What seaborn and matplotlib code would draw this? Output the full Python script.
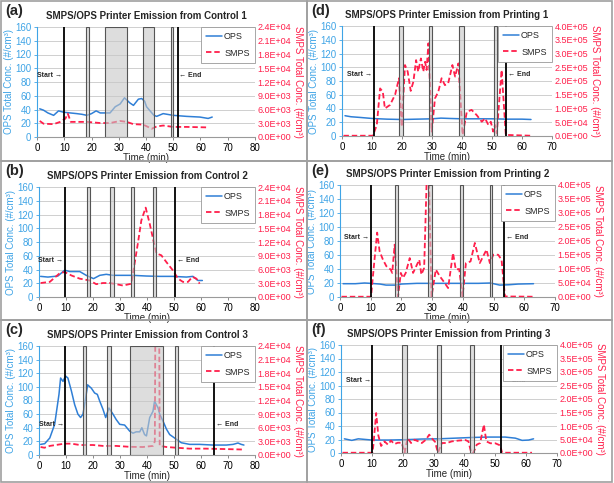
import matplotlib
matplotlib.use('Agg')
import matplotlib.pyplot as plt
from matplotlib.patches import Rectangle
from matplotlib.lines import Line2D
import seaborn as sns

sns.set_style('white')
plt.rcParams['font.family'] = ['Liberation Sans', 'DejaVu Sans']

OPS_BLUE = '#2F7FD6'
OPS_TXT = '#3FA4E6'
SMPS_RED = '#FF1F4B'

# ---- (a) Control 1 ----
a_ops_t = [1, 2.4, 4, 6.1, 7.9, 9.8, 12.2, 14.6, 16.5, 18.3, 20, 21.7, 23.2, 26.8, 28.7, 30.5,
           32.1, 34.1, 35.4, 37.2, 38.4, 39.5, 40.2, 42.9, 43.9, 46.3, 50, 54.9, 59.8, 62.8, 64.3]
a_ops = [41, 39, 35, 31.5, 38, 36, 35, 34, 33, 31.5, 34, 38, 35, 35, 44, 48,
         57, 49.5, 46, 55, 56, 52, 44, 31.5, 30, 34, 31.5, 30, 29, 27, 29]
a_smps_t = [1, 2.4, 6.1, 8.5, 10.4, 11.3, 12.4, 18.3, 23.2, 26.8, 30.5, 32.9, 35.4, 39,
            42.1, 43.9, 46.3, 50, 54.9, 62.2]
a_smps = [3500, 2900, 2800, 3300, 4000, 5100, 3300, 3300, 3050, 3050, 3500, 3300, 2800, 2700,
          1800, 2300, 2500, 2200, 2200, 2100]
a_start, a_end = 9.75, 51.6
a_bars = [(17.8, 18.9), (25.1, 32.9), (39, 42.9), (49, 49.8)]

# ---- (b) Control 2 ----
b_ops_t = [0.6, 3.3, 7, 9.5, 11.4, 15.1, 17.5, 20.2, 22.5, 24.9, 27.4, 34.8, 39.8, 44.7,
           49.6, 54.6, 57, 58.9, 60.5]
b_ops = [30, 29, 30.5, 39, 37, 37, 31.5, 26.7, 31.5, 33, 31.5, 31.5, 30.5, 30,
         30, 29, 30, 24, 24]
b_smps_t = [0.6, 4, 7.7, 9.5, 12, 15.1, 18.8, 21.2, 23.7, 26.2, 28.6, 31.1, 34.2, 35.4, 36.7,
            37.9, 39.5, 41, 42.5, 43.5, 45.3, 47.2, 49.6, 51.5, 53.3, 55.2, 56.8, 58.3, 59.5]
b_smps = [3050, 3300, 5200, 5450, 4700, 4000, 3600, 2800, 3050, 3050, 2800, 2500, 2900, 7300, 12000,
          16700, 19500, 16000, 12000, 9500, 9100, 7600, 5800, 4000, 3300, 3300, 4400, 4000, 2900]
b_start, b_end = 9.5, 50.5
b_bars = [(17.8, 19), (26.4, 27.7), (34.2, 35.2), (42.2, 43.5)]

# ---- (c) Control 3 ----
c_ops_t = [0.6, 2.1, 4, 5.8, 7.4, 8, 8.9, 9.8, 10.7, 12, 13.2, 14.4, 15.4, 16.3, 17.3, 18,
           19.4, 20.6, 21.6, 22.5, 23.7, 24.7, 25.9, 27.4, 28.6, 29.9, 31.7, 33.6, 34.8, 36,
           37.3, 38.1, 39.1, 39.8, 41, 42.2, 42.8, 44.1, 44.7, 45.9, 47.2, 48.4, 50.2, 52.7,
           55.8, 59.5, 64.4, 69.4, 71.9, 73.7, 74.9, 75.9]
c_ops = [15.6, 16.6, 25, 45, 89, 113, 108, 116, 113, 94, 74, 60, 55, 60, 84, 103,
         98, 91, 89, 79, 67, 55, 69, 60, 52, 45, 44, 35, 32, 34,
         34, 40, 30, 28, 55, 64, 79, 69, 60, 50, 38, 30, 25, 18,
         15.6, 15.6, 14.6, 14.6, 15.6, 17.6, 15.6, 14.6]
c_smps_t = [0.6, 2, 4, 9.5, 12, 15.1, 20, 23.7, 28.6, 33.6, 38.5, 42.2, 42.9, 43.1, 44.5,
            44.7, 47.2, 50.9, 55.8, 61.9, 69.4, 75.9]
c_smps = [1760, 1600, 2000, 2500, 2500, 2200, 2200, 2000, 2000, 1800, 1760, 2000, 3000, 30000, 30000,
          2000, 1760, 1600, 1400, 1400, 1300, 1200]
c_start, c_end = 9.75, 64.8
c_bars = [(16.3, 17.3), (25.3, 26.5), (33.6, 45.9), (50.4, 51.6)]

# ---- (d) Printing 1 ----
d_ops_t = [1, 3, 6, 10, 15, 20, 25, 30, 33, 36, 40, 45, 50, 55, 60, 63]
d_ops = [29.5, 28, 27, 25.5, 24.5, 24, 24.5, 25, 26, 25.5, 25, 25, 25, 24.5, 24.5, 24]
d_smps_t = [0.5, 10.3, 11.6, 12.7, 13.6, 14.3, 16, 17.7, 19, 19.9, 21, 21.9, 22.9, 23.8, 24.7,
            25.4, 26.3, 27.1, 27.7, 28.2, 28.8, 29.9, 31, 32.1, 33.2, 34.3, 35.4, 36.8, 37.7,
            38.8, 40.2, 41.6, 43.2, 44.9, 46.6, 47.7, 48.8, 49.6, 50.4, 51, 51.6, 53.2, 54.6, 63]
d_smps = [1000, 1000, 40000, 173000, 161000, 100000, 113000, 150000, 210000, 34000, 258000, 234000,
          164000, 198000, 276000, 234000, 282000, 234000, 270000, 240000, 337000, 16000, 137000,
          161000, 210000, 185000, 192000, 258000, 216000, 264000, 4000, 88000, 95000, 76000, 52000,
          64000, 40000, 52000, 16000, 40000, 10000, 240000, 4000, 1000]
d_start, d_end = 10.5, 54.6
d_bars = [(18.9, 20.3), (28.9, 30.1), (39.1, 40.5), (50.7, 51.5)]

# ---- (e) Printing 2 ----
e_ops_t = [1, 5, 8, 10, 13, 15, 18, 20, 25, 30, 35, 40, 45, 49, 52, 55, 58, 63]
e_ops = [19, 19, 20, 19.5, 18.5, 17, 17, 18.5, 19.5, 19.5, 19.5, 19.5, 19.5, 20, 17, 17.5, 18.5, 19]
e_smps_t = [0.5, 10.1, 11.2, 12.1, 12.9, 14, 15.1, 16.5, 17, 17.8, 18.9, 19.8, 20.5, 21.4, 22.7,
            23.8, 25.8, 26.5, 27.4, 28.3, 28.9, 29.8, 31.2, 32.5, 34.1, 35.2, 36.8, 37.7, 38.8,
            39.9, 41, 42.5, 43.9, 45.5, 47.7, 48.8, 49.9, 51.5, 52.6, 53.7, 63]
e_smps = [1000, 1000, 130000, 230000, 163000, 133000, 110000, 98000, 86000, 187000, 2000, 86000,
          68000, 86000, 139000, 86000, 133000, 80000, 104000, 450000, 450000, 2000, 98000, 74000,
          50000, 32000, 157000, 98000, 100000, 2000, 121000, 127000, 193000, 121000, 169000,
          121000, 151000, 151000, 133000, 2000, 1000]
e_start, e_end = 10.2, 53.5
e_bars = [(17.8, 18.9), (28.5, 29.8), (39.2, 40.1), (48.8, 49.6)]

# ---- (f) Printing 3 ----
f_ops_t = [1.1, 3.5, 5.6, 10, 15.4, 20.8, 26.2, 31.6, 37, 42.4, 47.8, 53.2, 56.5, 58.7, 60.8, 62.4]
f_ops = [21, 18.7, 21, 19.2, 19.2, 19.7, 20.7, 21, 22, 23, 23.6, 23.6, 22, 18.7, 19.2, 21]
f_smps_t = [0.5, 10.2, 10.5, 11.4, 12.1, 13, 14.1, 15.2, 16.2, 17.3, 18.4, 19.7, 20.6, 21.6,
            22.7, 23.8, 25.1, 26.2, 27.5, 28.6, 29.4, 30.5, 31.4, 32.7, 34.3, 35.9, 38.1, 40.3,
            41.3, 42.2, 42.9, 44, 45.1, 46.3, 47.1, 48.4, 50, 51.6, 52.2, 61.9]
f_smps = [1000, 1000, 30000, 148000, 65000, 26000, 43000, 31000, 46000, 33000, 38000, 38000, 1000,
          55000, 37000, 49000, 43000, 37000, 49000, 68000, 55000, 41000, 1000, 37000, 37000, 43000,
          46000, 48000, 43000, 1000, 1000, 31000, 37000, 105000, 43000, 36000, 36000, 28000, 1000, 1000]
f_start, f_end = 10.2, 51.9
f_bars = [(19.9, 21.3), (31.1, 32.5), (41.7, 43.2)]

panels = [
    dict(label='(a)', name='Control 1', ops_t=a_ops_t, ops=a_ops, smps_t=a_smps_t, smps=a_smps,
         start=a_start, end=a_end, bars=a_bars, xmax=80, ymax2=2.4e4, txt_y=90,
         px=(37, 27, 255, 137), frame=(1, 1, 307, 161)),
    dict(label='(b)', name='Control 2', ops_t=b_ops_t, ops=b_ops, smps_t=b_smps_t, smps=b_smps,
         start=b_start, end=b_end, bars=b_bars, xmax=80, ymax2=2.4e4, txt_y=53,
         px=(39, 187, 255, 297), frame=(1, 161, 307, 320)),
    dict(label='(c)', name='Control 3', ops_t=c_ops_t, ops=c_ops, smps_t=c_smps_t, smps=c_smps,
         start=c_start, end=c_end, bars=c_bars, xmax=80, ymax2=2.4e4, txt_y=45,
         px=(39, 346, 255, 455), frame=(1, 320, 307, 482)),
    dict(label='(d)', name='Printing 1', ops_t=d_ops_t, ops=d_ops, smps_t=d_smps_t, smps=d_smps,
         start=d_start, end=d_end, bars=d_bars, xmax=70, ymax2=4e5, txt_y=90,
         px=(342, 26, 552, 136), frame=(307, 1, 612, 161)),
    dict(label='(e)', name='Printing 2', ops_t=e_ops_t, ops=e_ops, smps_t=e_smps_t, smps=e_smps,
         start=e_start, end=e_end, bars=e_bars, xmax=70, ymax2=4e5, txt_y=85,
         px=(340, 185, 555, 297), frame=(307, 161, 612, 320)),
    dict(label='(f)', name='Printing 3', ops_t=f_ops_t, ops=f_ops, smps_t=f_smps_t, smps=f_smps,
         start=f_start, end=f_end, bars=f_bars, xmax=70, ymax2=4e5, txt_y=108,
         px=(341, 345, 557, 453), frame=(307, 320, 612, 482)),
]

W, H = 614, 483
fig = plt.figure(figsize=(W / 100, H / 100), dpi=100)


def draw_panel(p):
    x0, y0, x1, y1 = p['px']
    ax = fig.add_axes([x0 / W, 1 - y1 / H, (x1 - x0) / W, (y1 - y0) / H])
    ax2 = ax.twinx()

    sns.lineplot(x=p['ops_t'], y=p['ops'], ax=ax, color=OPS_BLUE, lw=1.1)
    sns.lineplot(x=p['smps_t'], y=p['smps'], ax=ax2, color=SMPS_RED, lw=1.3)
    ax2.lines[-1].set_linestyle((0, (3, 1.6)))

    ax.set_xlim(0, p['xmax'])
    ax.set_ylim(0, 160)
    ax2.set_ylim(0, p['ymax2'])
    ax.set_xticks(range(0, p['xmax'] + 1, 10))
    ax.set_yticks(range(0, 161, 20))
    ax2.set_yticks([p['ymax2'] / 8 * i for i in range(9)])
    ax2.set_yticklabels([f'{p["ymax2"] / 8 * i:.1E}' for i in range(9)])

    ax.yaxis.grid(True, color='#c8c8c8', lw=0.6)
    ax.set_axisbelow(True)
    for s in ['top', 'right']:
        ax.spines[s].set_visible(False)
    for s in ['top', 'left', 'bottom']:
        ax2.spines[s].set_visible(False)
    ax2.spines['right'].set_visible(False)
    ax.spines['left'].set_color(OPS_TXT)
    ax.spines['bottom'].set_color('#9a9a9a')
    ax.tick_params(axis='y', colors=OPS_TXT, labelsize=7, length=2.5, width=0.6, pad=1.5, direction='out', left=True)
    ax.tick_params(axis='x', colors='#777777', labelcolor='black', labelsize=7, length=2.5, width=0.6, pad=1.5, bottom=True)
    ax2.tick_params(axis='y', colors=SMPS_RED, labelsize=6.5, length=0, pad=2)

    ax.set_xlabel('Time (min)', fontsize=7, labelpad=0)
    ax.set_ylabel('OPS Total Conc. (#/cm³)', fontsize=7, color=OPS_TXT, labelpad=1)
    ax2.set_ylabel('SMPS Total Conc. (#/cm³)', fontsize=7, color=SMPS_RED, rotation=270, labelpad=8)
    ax.set_title('SMPS/OPS Printer Emission from ' + p['name'], fontsize=7, fontweight='bold', pad=6)

    for b0, b1 in p['bars']:
        ax2.axvspan(b0, b1, facecolor=(0.78, 0.78, 0.78, 0.6), edgecolor='#555555', lw=0.8, zorder=3)
    for xv in (p['start'], p['end']):
        ax2.axvline(xv, color='black', lw=1.3, zorder=4)

    tr = ax2.get_xaxis_transform()
    ax2.text(p['start'] - 0.6, p['txt_y'] / 160, 'Start →', transform=tr, ha='right', va='center',
             fontsize=5, fontweight='bold', zorder=5)
    ax2.text(p['end'] + 0.6, p['txt_y'] / 160, '← End', transform=tr, ha='left', va='center',
             fontsize=5, fontweight='bold', zorder=5)

    handles = [Line2D([], [], color=OPS_BLUE, lw=1.1),
               Line2D([], [], color=SMPS_RED, lw=1.3, ls=(0, (3, 1.6)))]
    leg = ax2.legend(handles, ['OPS', 'SMPS'], loc='upper right', fontsize=6.5, frameon=True,
                     fancybox=False, edgecolor='#999999', framealpha=1, borderaxespad=0,
                     handlelength=1.8, handletextpad=0.2, borderpad=0.6, labelspacing=0.8)
    leg.get_frame().set_linewidth(0.6)
    leg.set_zorder(10)

    fx0, fy0, fx1, fy1 = p['frame']
    fig.patches.append(Rectangle((fx0 / W, 1 - fy1 / H), (fx1 - fx0) / W, (fy1 - fy0) / H,
                                 transform=fig.transFigure, fill=False, edgecolor='#a0a0a0', lw=1.2))
    fig.text((fx0 + 4) / W, 1 - (fy0 + 3) / H, p['label'], fontsize=10.5, fontweight='bold',
             ha='left', va='top')


for p in panels:
    draw_panel(p)

fig.savefig('out.png', dpi=100)
